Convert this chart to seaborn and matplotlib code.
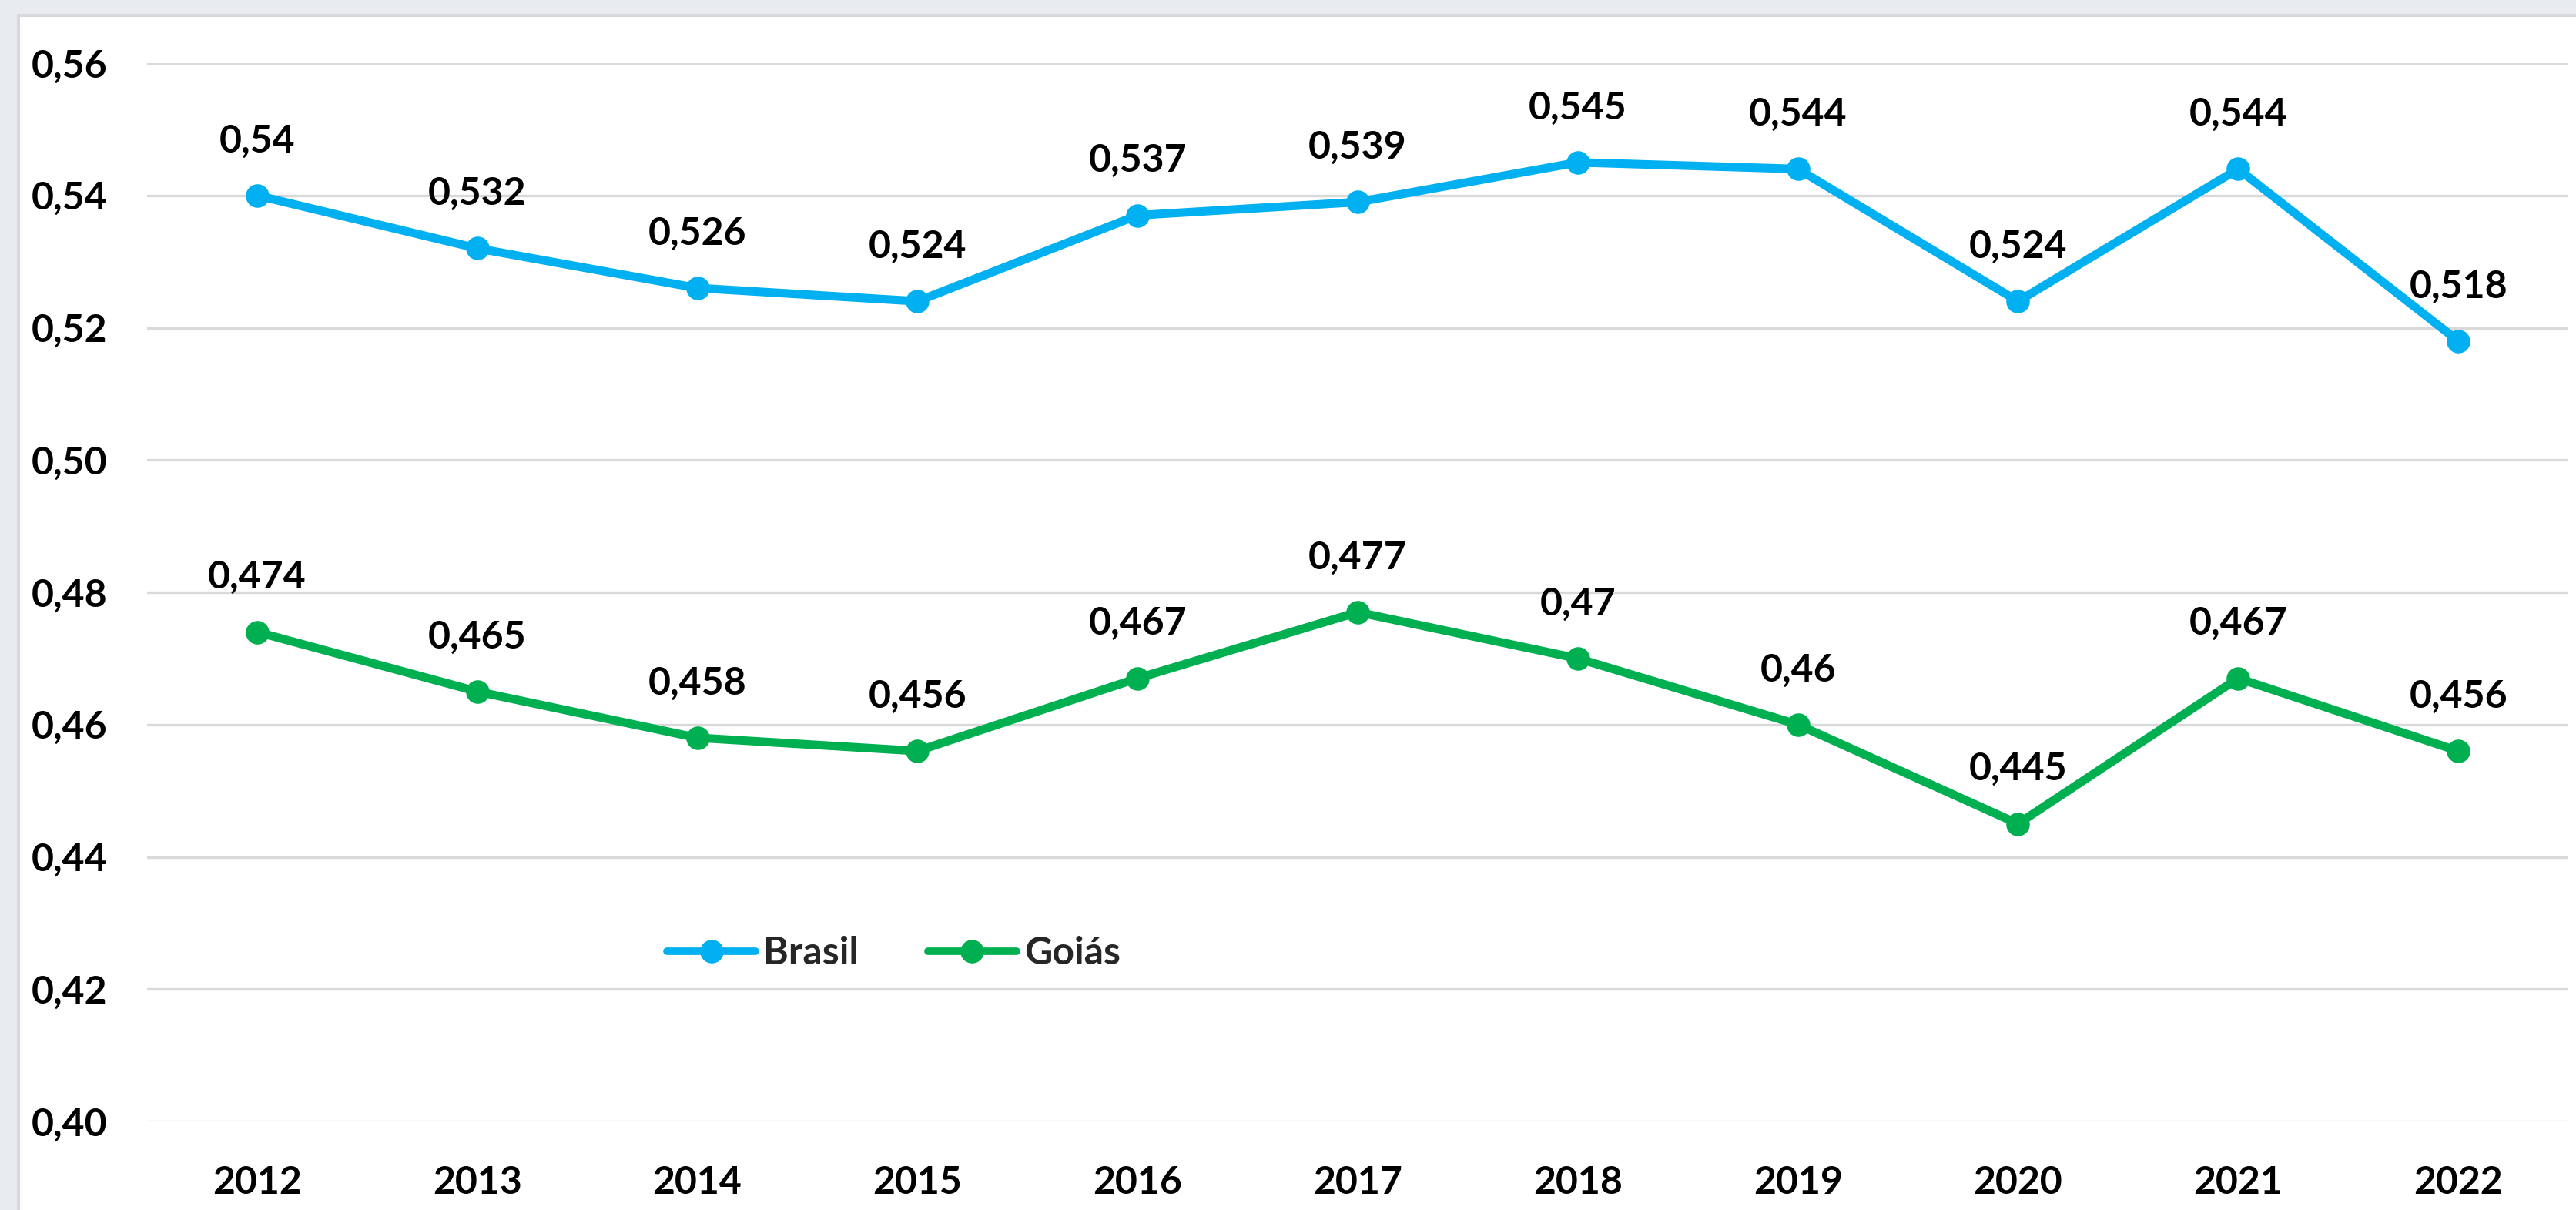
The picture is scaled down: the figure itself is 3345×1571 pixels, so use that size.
import matplotlib
matplotlib.use("Agg")
import matplotlib.pyplot as plt
from matplotlib.patches import Rectangle
from matplotlib.ticker import FuncFormatter
import seaborn as sns
import pandas as pd

years = [2012, 2013, 2014, 2015, 2016, 2017, 2018, 2019, 2020, 2021, 2022]
brasil = [0.54, 0.532, 0.526, 0.524, 0.537, 0.539, 0.545, 0.544, 0.524, 0.544, 0.518]
goias = [0.474, 0.465, 0.458, 0.456, 0.467, 0.477, 0.47, 0.46, 0.445, 0.467, 0.456]
series_names = ["Brasil", "Goiás"]
series_colors = ["#00B0F0", "#00B050"]
y_ticks = [0.40, 0.42, 0.44, 0.46, 0.48, 0.50, 0.52, 0.54, 0.56]

df = pd.DataFrame({
    "ano": years * 2,
    "valor": brasil + goias,
    "serie": [series_names[0]] * len(years) + [series_names[1]] * len(years),
})

sns.set_theme(style="white")
plt.rcParams["font.family"] = ["Lato", "DejaVu Sans"]

W, H = 3345, 1571
DPI = 100
fig = plt.figure(figsize=(W / DPI, H / DPI), dpi=DPI, facecolor="#e8ebf0")
bg = Rectangle((24 / W, -0.01), 1.02, 1 - 20 / H + 0.01,
               transform=fig.transFigure, facecolor="white",
               edgecolor="#d6d8dc", linewidth=3, zorder=-10)
fig.patches.append(bg)

ax = fig.add_axes([191 / W, 1 - 1456 / H, (3335 - 191) / W, (1456 - 82) / H])
ax.set_zorder(5)
ax.set_facecolor("none")

sns.lineplot(data=df, x="ano", y="valor", hue="serie",
             palette=dict(zip(series_names, series_colors)),
             marker="o", markersize=22, markeredgewidth=0,
             linewidth=8, ax=ax, legend=True, zorder=3)

FS = 36
weight = "bold"

for name, vals in zip(series_names, [brasil, goias]):
    for x, v in zip(years, vals):
        ax.annotate(f"{v:g}".replace(".", ","), (x, v), xytext=(0, 51),
                    textcoords="offset points", ha="center", va="center",
                    fontsize=FS, fontweight=weight, color="black", zorder=5)

ax.set_xlim(years[0] - 0.5, years[-1] + 0.5)
ax.set_ylim(y_ticks[0], y_ticks[-1])
ax.set_xticks(years)
ax.set_xticklabels([str(y) for y in years])
ax.set_yticks(y_ticks)
ax.yaxis.set_major_formatter(FuncFormatter(lambda v, p: f"{v:.2f}".replace(".", ",")))
ax.tick_params(axis="y", length=0, pad=37, labelsize=FS, labelcolor="black")
ax.tick_params(axis="x", length=0, pad=41, labelsize=FS, labelcolor="black")
for lab in ax.get_xticklabels() + ax.get_yticklabels():
    lab.set_fontweight(weight)
ax.grid(axis="y", color="#d9d9d9", linewidth=2.4, zorder=0)
ax.grid(axis="x", visible=False)
for s in ax.spines.values():
    s.set_visible(False)
ax.set_xlabel("")
ax.set_ylabel("")

handles, labels = ax.get_legend_handles_labels()
leg = ax.legend(handles, labels, loc="center left",
                bbox_to_anchor=(866 / W, 1 - 1238 / H), bbox_transform=fig.transFigure,
                ncol=2, frameon=False, fontsize=FS, handlelength=2.3,
                handletextpad=0.2, columnspacing=1.8, borderpad=0, borderaxespad=0)
for t in leg.get_texts():
    t.set_fontweight(weight)
for lh in leg.get_lines():
    lh.set_linewidth(7)
    lh.set_markersize(22)

fig.savefig("out.png", dpi=DPI, facecolor=fig.get_facecolor())
